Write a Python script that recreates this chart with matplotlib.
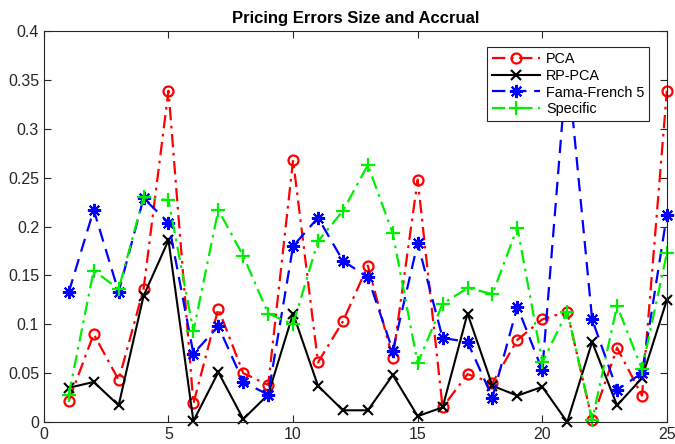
import matplotlib
matplotlib.use("Agg")
import matplotlib.pyplot as plt
import numpy as np

plt.rcParams['font.family'] = ['Liberation Sans', 'DejaVu Sans']

x = list(range(1, 26))
pca = [0.022, 0.090, 0.043, 0.136, 0.339, 0.019, 0.116, 0.050, 0.038, 0.268,
       0.061, 0.103, 0.160, 0.065, 0.248, 0.015, 0.049, 0.040, 0.084, 0.105,
       0.113, 0.002, 0.076, 0.027, 0.339]
rppca = [0.035, 0.041, 0.017, 0.129, 0.186, 0.001, 0.051, 0.003, 0.028, 0.111,
         0.037, 0.012, 0.012, 0.048, 0.006, 0.015, 0.111, 0.037, 0.027, 0.036,
         0.000, 0.082, 0.017, 0.045, 0.125]
ff5 = [0.133, 0.217, 0.133, 0.229, 0.204, 0.070, 0.098, 0.041, 0.028, 0.180,
       0.209, 0.165, 0.148, 0.073, 0.183, 0.086, 0.082, 0.025, 0.118, 0.053,
       0.370, 0.105, 0.033, 0.050, 0.212]
specific = [0.028, 0.155, 0.136, 0.230, 0.227, 0.093, 0.217, 0.170, 0.111, 0.100,
            0.185, 0.216, 0.263, 0.193, 0.060, 0.121, 0.137, 0.131, 0.199, 0.061,
            0.113, 0.002, 0.119, 0.054, 0.173]
labels = ['PCA', 'RP-PCA', 'Fama-French 5', 'Specific']
xticks = [0, 5, 10, 15, 20, 25]
yticks = [0, 0.05, 0.1, 0.15, 0.2, 0.25, 0.3, 0.35, 0.4]
yticklabels = ['0', '0.05', '0.1', '0.15', '0.2', '0.25', '0.3', '0.35', '0.4']

fig = plt.figure(figsize=(6.75, 4.44), dpi=100)
ax = fig.add_axes([0.065, 0.0495, 0.923, 0.8805])

dashdot = (0, (6, 2.5, 1.2, 2.5))
ax.plot(x, pca, color='red', linestyle=dashdot, lw=1.6,
        marker='o', ms=7.2, mfc='none', mew=1.6, label=labels[0], clip_on=False)
ax.plot(x, rppca, color='black', linestyle='-', lw=1.5,
        marker='x', ms=7, mew=1.5, label=labels[1], clip_on=False)
ax.plot(x, ff5, color='blue', linestyle=(0, (6, 3.5)), lw=1.6,
        marker=(8, 2, 0), ms=9.5, mew=1.5, label=labels[2], clip_on=False)
ax.plot(x, specific, color='#00ee00', linestyle=dashdot, lw=1.6,
        marker='+', ms=10, mew=1.6, label=labels[3], clip_on=False)

ax.set_xlim(0, 25)
ax.set_ylim(0, 0.4)
ax.set_xticks(xticks)
ax.set_yticks(yticks)
ax.set_yticklabels(yticklabels)
ax.tick_params(direction='in', top=True, right=True, labelsize=11.5,
               colors='#262626', length=5, width=0.8)
for s in ax.spines.values():
    s.set_color('#262626')
    s.set_linewidth(0.8)
ax.set_title('Pricing Errors Size and Accrual', fontsize=12, fontweight='bold', pad=6)

leg = ax.legend(loc='upper right', bbox_to_anchor=(0.972, 0.96), fontsize=10.4,
                frameon=True, fancybox=False, framealpha=1, edgecolor='#262626',
                handlelength=3.3, borderpad=0.35, labelspacing=0.2,
                handletextpad=0.45, borderaxespad=0)
leg.get_frame().set_linewidth(0.8)
leg.set_zorder(10)

fig.savefig('out.png', dpi=100)
